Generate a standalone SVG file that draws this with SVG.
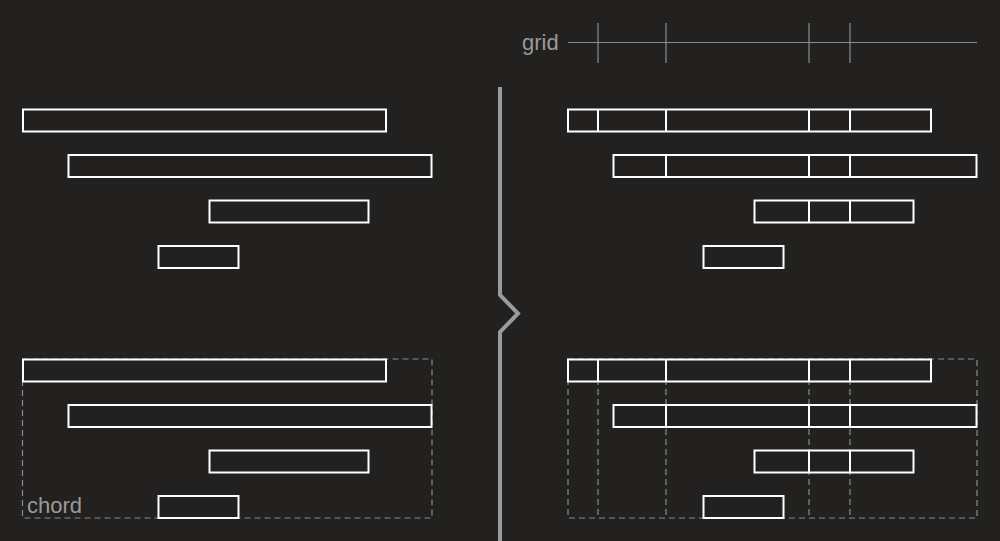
<svg xmlns="http://www.w3.org/2000/svg" width="1000" height="541" viewBox="0 0 1000 541">
<style>
.bg{fill:#222120}
.bar{fill:#222120;stroke:#ffffff;stroke-width:2}
.div{stroke:#ffffff;stroke-width:2}
.dash{fill:none;stroke:#8a8a8a;stroke-width:1.2;stroke-dasharray:6 4}
.thin{stroke:#8a8a8a;stroke-width:1.2;fill:none}
.lbl{font-family:"Liberation Sans",Arial,sans-serif;font-size:22px;fill:#9a9a9a}
</style>
<rect class="bg" x="0" y="0" width="1000" height="541"/>
<g id="grid-legend">
  <text class="lbl" x="522" y="50">grid</text>
  <line class="thin" x1="568" y1="42.5" x2="977" y2="42.5"/>
  <line class="thin" x1="598" y1="23" x2="598" y2="63"/>
  <line class="thin" x1="666" y1="23" x2="666" y2="63"/>
  <line class="thin" x1="809" y1="23" x2="809" y2="63"/>
  <line class="thin" x1="850" y1="23" x2="850" y2="63"/>
</g>
<g id="divider">
  <polyline points="500,87 500,295 518,313.5 500,332 500,541" fill="none" stroke="#9a9a9a" stroke-width="4"/>
</g>
<g id="top-left">
  <rect class="bar" x="23" y="109.5" width="363" height="22"/>
  <rect class="bar" x="68.5" y="155" width="363" height="22"/>
  <rect class="bar" x="209.5" y="200.5" width="159" height="22"/>
  <rect class="bar" x="158.5" y="246" width="80" height="22"/>
</g>
<g id="top-right">
  <rect class="bar" x="568" y="109.5" width="363" height="22"/>
  <line class="div" x1="598" y1="109.5" x2="598" y2="131.5"/>
  <line class="div" x1="666" y1="109.5" x2="666" y2="131.5"/>
  <line class="div" x1="809" y1="109.5" x2="809" y2="131.5"/>
  <line class="div" x1="850" y1="109.5" x2="850" y2="131.5"/>
  <rect class="bar" x="613.5" y="155" width="363" height="22"/>
  <line class="div" x1="666" y1="155" x2="666" y2="177"/>
  <line class="div" x1="809" y1="155" x2="809" y2="177"/>
  <line class="div" x1="850" y1="155" x2="850" y2="177"/>
  <rect class="bar" x="754.5" y="200.5" width="159" height="22"/>
  <line class="div" x1="809" y1="200.5" x2="809" y2="222.5"/>
  <line class="div" x1="850" y1="200.5" x2="850" y2="222.5"/>
  <rect class="bar" x="703.5" y="246" width="80" height="22"/>
</g>
<g id="bottom-left">
  <rect class="dash" x="22.5" y="359" width="409.5" height="159"/>
  <text class="lbl" x="27" y="513">chord</text>
  <rect class="bar" x="23" y="359.5" width="363" height="22"/>
  <rect class="bar" x="68.5" y="405" width="363" height="22"/>
  <rect class="bar" x="209.5" y="450.5" width="159" height="22"/>
  <rect class="bar" x="158.5" y="496" width="80" height="22"/>
</g>
<g id="bottom-right">
  <rect class="dash" x="568" y="359" width="409" height="159"/>
  <line class="dash" x1="598" y1="359" x2="598" y2="518"/>
  <line class="dash" x1="666" y1="359" x2="666" y2="518"/>
  <line class="dash" x1="809" y1="359" x2="809" y2="518"/>
  <line class="dash" x1="850" y1="359" x2="850" y2="518"/>
  <rect class="bar" x="568" y="359.5" width="363" height="22"/>
  <line class="div" x1="598" y1="359.5" x2="598" y2="381.5"/>
  <line class="div" x1="666" y1="359.5" x2="666" y2="381.5"/>
  <line class="div" x1="809" y1="359.5" x2="809" y2="381.5"/>
  <line class="div" x1="850" y1="359.5" x2="850" y2="381.5"/>
  <rect class="bar" x="613.5" y="405" width="363" height="22"/>
  <line class="div" x1="666" y1="405" x2="666" y2="427"/>
  <line class="div" x1="809" y1="405" x2="809" y2="427"/>
  <line class="div" x1="850" y1="405" x2="850" y2="427"/>
  <rect class="bar" x="754.5" y="450.5" width="159" height="22"/>
  <line class="div" x1="809" y1="450.5" x2="809" y2="472.5"/>
  <line class="div" x1="850" y1="450.5" x2="850" y2="472.5"/>
  <rect class="bar" x="703.5" y="496" width="80" height="22"/>
</g>
</svg>
